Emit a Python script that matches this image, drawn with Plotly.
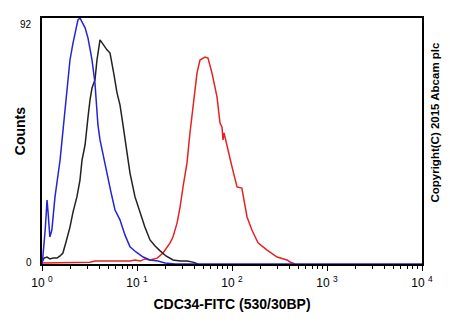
import plotly.graph_objects as go

# FITC channel values (log scale) and event counts for each sample
blue_fitc = [1.00, 1.02, 1.08, 1.13, 1.16, 1.21, 1.27, 1.37, 1.55, 1.66, 1.79, 1.97, 2.12, 2.28,
             2.39, 2.51, 2.64, 2.84, 3.05, 3.36, 3.61, 3.88, 4.08, 4.39, 4.83, 5.32, 5.87, 6.31,
             6.62, 7.48, 8.44, 9.75, 11.6, 13.7, 16.6, 19.7, 25.1, 10000]
blue_counts = [0, 2.6, 12.7, 23.9, 19.1, 10.1, 12.7, 25.1, 38.9, 50.1, 61.3, 76.3, 82.6, 88.3,
               91.3, 92, 90.5, 88.3, 84.5, 76.3, 67.7, 52.0, 46.4, 40.8, 34.0, 26.9, 20.2, 18.3,
               16.5, 10.8, 6.4, 4.5, 2.6, 1.5, 1.1, 0.4, 0, 0]

black_fitc = [1.00, 1.05, 1.13, 1.21, 1.31, 1.44, 1.55, 1.66, 1.79, 1.97, 2.12, 2.33, 2.51, 2.64,
              2.84, 2.98, 3.05, 3.20, 3.36, 3.61, 3.79, 4.08, 4.39, 4.83, 5.20, 5.45, 5.73, 6.16,
              6.62, 7.12, 7.85, 8.44, 9.53, 10.8, 12.1, 13.7, 15.5, 17.5, 20.2, 23.9, 28.4, 33.6,
              38.8, 43.9]
black_counts = [0.7, 2.2, 2.6, 1.9, 2.2, 2.2, 3.0, 4.1, 8.2, 13.8, 19.4, 25.1, 31.4, 38.9,
                44.5, 50.1, 54.9, 61.3, 65.8, 68.8, 76.3, 83.8, 82.0, 80.1, 78.9, 75.5, 70.7, 64.0,
                59.5, 52.0, 42.6, 34.0, 25.1, 19.1, 13.8, 9.0, 6.7, 4.9, 3.0, 1.5, 1.1, 1.1,
                0.7, 0]

red_fitc = [1.00, 1.97, 2.70, 3.20, 3.61, 4.39, 5.20, 6.62, 8.44, 9.53, 10.8, 12.1, 13.7, 16.3,
            18.8, 22.3, 23.9, 26.4, 28.4, 30.5, 33.6, 36.1, 38.8, 42.8, 46.0, 49.5, 52.0, 55.9,
            61.6, 69.5, 74.8, 78.5, 80.4, 82.5, 88.6, 100, 113, 127, 144, 162, 188, 234, 298,
            379, 408, 460]
red_counts = [0.4, 0.7, 0.9, 0.7, 1.1, 1.1, 0.9, 1.1, 1.1, 1.5, 1.1, 1.9, 1.5, 2.2,
              4.1, 7.9, 10.1, 15.3, 21.3, 28.8, 37.8, 49.0, 58.7, 71.4, 76.3, 77.0, 77.4, 77.0,
              71.4, 62.5, 52.7, 51.2, 46.4, 49.0, 43.8, 36.3, 28.8, 28.4, 17.6, 12.7, 7.9, 5.2, 2.6,
              1.5, 0.75, 0]

x_ticks = [1, 10, 100, 1000, 10000]
x_tick_text = ["10 <sup>0</sup>", "10 <sup>1</sup>", "10 <sup>2</sup>", "10 <sup>3</sup>", "10 <sup>4</sup>"]
minor_ticks = [m * 10 ** k for k in range(4) for m in range(2, 10)]
y_max = 92

font = "Liberation Sans, Arial, sans-serif"

fig = go.Figure()
fig.add_trace(go.Scatter(x=red_fitc, y=red_counts, mode="lines",
                         line=dict(color="#e52222", width=1.5)))
fig.add_trace(go.Scatter(x=black_fitc, y=black_counts, mode="lines",
                         line=dict(color="#222222", width=1.5)))
fig.add_trace(go.Scatter(x=blue_fitc, y=blue_counts, mode="lines",
                         line=dict(color="#2424d6", width=1.5)))

fig.update_layout(
    width=450, height=330,
    margin=dict(l=42, r=28, t=18, b=66),
    paper_bgcolor="white", plot_bgcolor="white",
    showlegend=False,
    font=dict(family=font, color="black"),
    xaxis=dict(
        type="log", range=[0, 4],
        tickmode="array", tickvals=x_ticks, ticktext=x_tick_text,
        ticks="outside", ticklen=5, tickwidth=1, tickcolor="black",
        tickfont=dict(size=12, family=font), ticklabelstandoff=2,
        minor=dict(tickmode="array", tickvals=minor_ticks, ticks="outside",
                   ticklen=3, tickwidth=1, tickcolor="black"),
        showgrid=False, zeroline=False,
        showline=True, linecolor="black", linewidth=1.5, mirror=True,
        layer="below traces",
        title=dict(text="<b>CDC34-FITC (530/30BP)</b>", font=dict(size=14, family=font), standoff=10),
    ),
    yaxis=dict(
        range=[0, y_max],
        showticklabels=False, ticks="",
        showgrid=False, zeroline=False,
        showline=True, linecolor="black", linewidth=1.5, mirror=True,
        layer="below traces",
    ),
    annotations=[
        dict(text=str(y_max), x=0, xref="paper", y=y_max, yref="y",
             xanchor="right", yanchor="top", xshift=-8, yshift=1, showarrow=False,
             font=dict(size=10, family=font)),
        dict(text="0", x=0, xref="paper", y=0, yref="y",
             xanchor="right", yanchor="middle", xshift=-8, yshift=2, showarrow=False,
             font=dict(size=10, family=font)),
        dict(text="<b>Counts</b>", x=0, xref="paper", y=0.54, yref="paper",
             xanchor="center", yanchor="middle", xshift=-22, textangle=-90, showarrow=False,
             font=dict(size=14, family=font)),
        dict(text="<b>Copyright(C) 2015 Abcam plc</b>", x=1, xref="paper", y=0.575, yref="paper",
             xanchor="center", yanchor="middle", xshift=13, textangle=-90, showarrow=False,
             font=dict(size=11.5, family=font)),
    ],
)

fig.write_html("out.html")
